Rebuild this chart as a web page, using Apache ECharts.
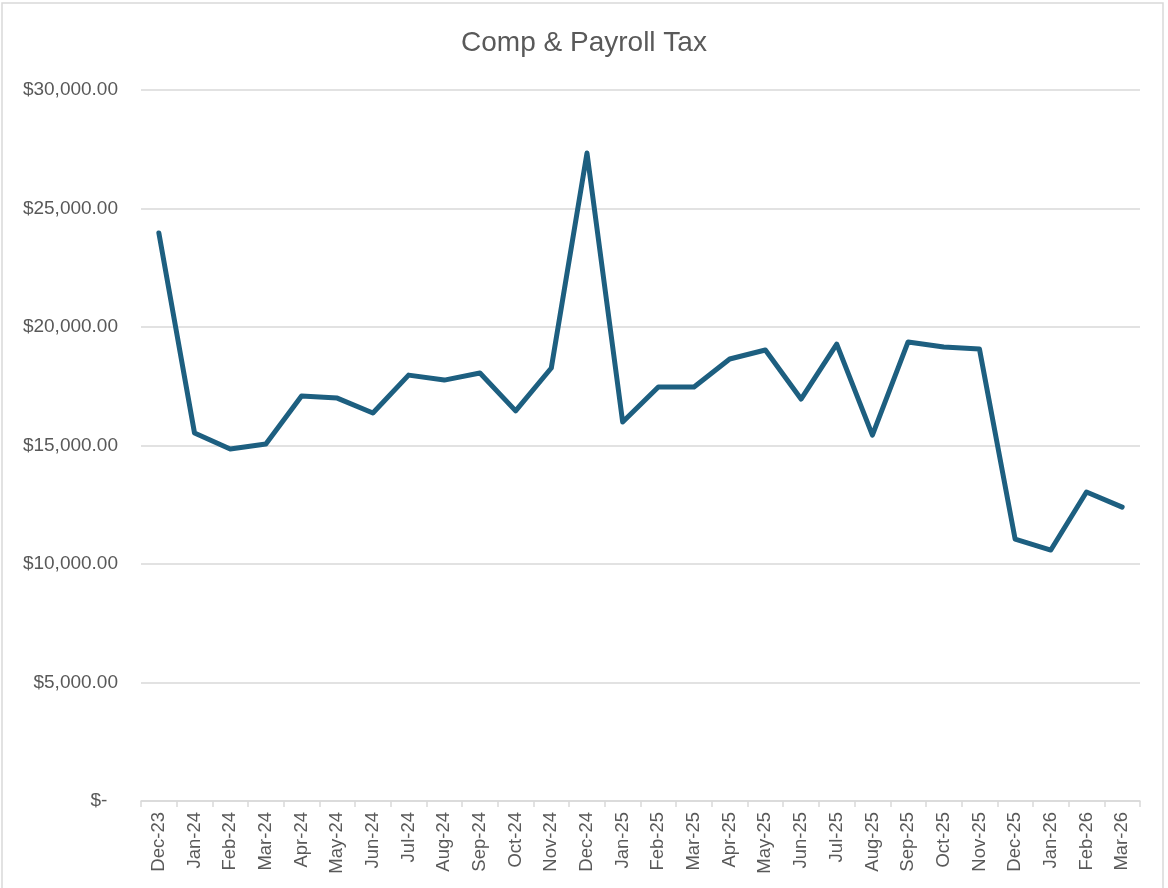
<!DOCTYPE html>
<html>
<head>
<meta charset="utf-8">
<script src="https://cdn.jsdelivr.net/npm/echarts@6/dist/echarts.min.js"></script>
<style>
html,body{margin:0;padding:0;background:#fff;}
#chart{width:1168px;height:888px;}
</style>
</head>
<body>
<div id="chart"></div>
<script>
const categories = ["Dec-23","Jan-24","Feb-24","Mar-24","Apr-24","May-24","Jun-24","Jul-24","Aug-24","Sep-24","Oct-24","Nov-24","Dec-24","Jan-25","Feb-25","Mar-25","Apr-25","May-25","Jun-25","Jul-25","Aug-25","Sep-25","Oct-25","Nov-25","Dec-25","Jan-26","Feb-26","Mar-26"];
const compPayrollTax = [23970,15530,14850,15060,17090,17000,16370,17970,17760,18060,16460,18270,27340,15990,17470,17470,18650,19030,16960,19280,15440,19370,19160,19070,11050,10590,13040,12400];
const yTicks = {min: 0, max: 30000, interval: 5000};

const chart = echarts.init(document.getElementById('chart'), null, {renderer: 'canvas'});
chart.setOption({
  backgroundColor: '#ffffff',
  animation: false,
  graphic: [{
    type: 'rect',
    shape: {x: 2, y: 3, width: 1161, height: 900},
    style: {fill: 'none', stroke: '#d9d9d9', lineWidth: 1.5},
    silent: true
  }],
  title: {
    text: 'Comp & Payroll Tax',
    left: 'center',
    top: 24,
    textStyle: {
      fontFamily: 'Liberation Sans Narrow, Liberation Sans, Arial, sans-serif',
      fontSize: 28,
      fontWeight: 'normal',
      color: '#595959'
    }
  },
  grid: {left: 141, right: 28, top: 90, bottom: 87, containLabel: false},
  xAxis: {
    type: 'category',
    data: categories,
    boundaryGap: true,
    axisLine: {show: true, lineStyle: {color: '#d9d9d9', width: 1.5}},
    axisTick: {show: true, interval: 0, length: 6, lineStyle: {color: '#d9d9d9', width: 1.5}},
    axisLabel: {
      interval: 0,
      rotate: 90,
      margin: 11,
      color: '#595959',
      fontSize: 18.5,
      fontFamily: 'Liberation Sans, Arial, sans-serif'
    },
    splitLine: {show: false}
  },
  yAxis: {
    type: 'value',
    min: yTicks.min,
    max: yTicks.max,
    interval: yTicks.interval,
    axisLine: {show: false},
    axisTick: {show: false},
    axisLabel: {
      margin: 23,
      color: '#595959',
      fontSize: 19,
      fontFamily: 'Liberation Sans, Arial, sans-serif',
      formatter: function (v) {
        if (v === 0) return '$-  ';
        return '$' + v.toLocaleString('en-US', {minimumFractionDigits: 2, maximumFractionDigits: 2});
      }
    },
    splitLine: {show: true, lineStyle: {color: '#d9d9d9', width: 1.5}}
  },
  series: [{
    type: 'line',
    data: compPayrollTax,
    showSymbol: false,
    symbol: 'none',
    lineStyle: {color: '#1d5f80', width: 5, join: 'round', cap: 'round'},
    itemStyle: {color: '#1d5f80'}
  }]
});
</script>
</body>
</html>
